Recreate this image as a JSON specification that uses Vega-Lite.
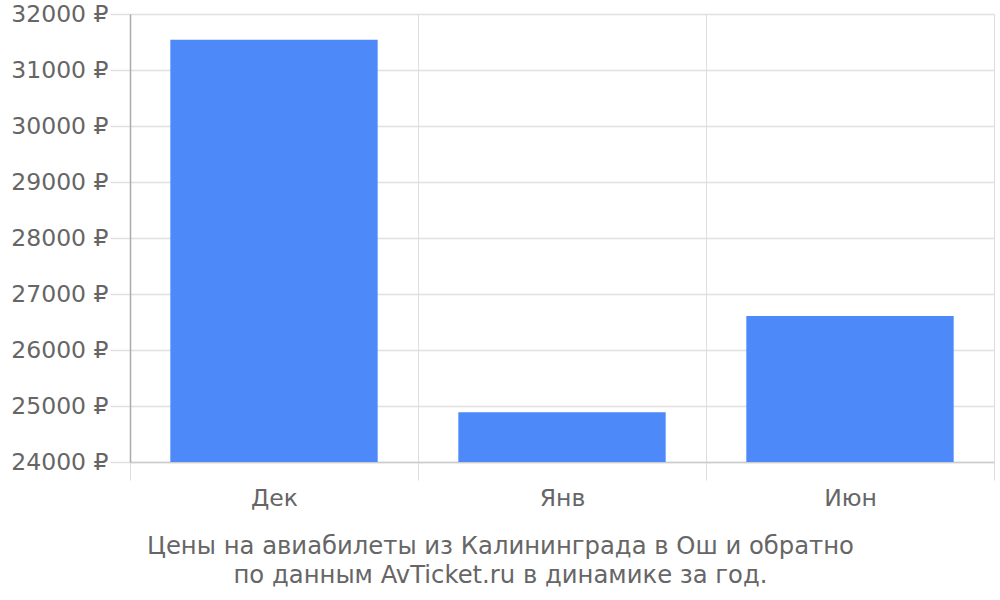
{
  "$schema": "https://vega.github.io/schema/vega-lite/v6.json",
  "autosize": "none",
  "width": 864,
  "height": 448,
  "padding": {"left": 130, "top": 14, "right": 6, "bottom": 138},
  "background": "white",
  "data": {
    "values": [
      {"month": "Дек", "price": 31540},
      {"month": "Янв", "price": 24890},
      {"month": "Июн", "price": 26605}
    ]
  },
  "mark": {"type": "bar", "color": "#4d89f9", "width": {"band": 0.72}},
  "encoding": {
    "x": {
      "field": "month",
      "type": "nominal",
      "sort": null,
      "scale": {"paddingInner": 0, "paddingOuter": 0},
      "axis": {
        "title": ["Цены на авиабилеты из Калининграда в Ош и обратно", "по данным AvTicket.ru в динамике за год."],
        "titleX": 370,
        "titleY": 72,
        "titleAlign": "center",
        "titleBaseline": "top",
        "titleAnchor": null,
        "titleLineHeight": 29,
        "titleFont": "DejaVu Sans",
        "titleFontSize": 24.3,
        "titleFontWeight": "normal",
        "titleColor": "#666666",
        "tickBand": "extent",
        "grid": true,
        "gridColor": "#dddddd",
        "tickColor": "#dddddd",
        "tickSize": 18,
        "domainColor": "#cccccc",
        "domainWidth": 1.5,
        "labelAngle": 0,
        "labelPadding": 6,
        "labelFont": "DejaVu Sans",
        "labelFontSize": 23.5,
        "labelColor": "#666666"
      }
    },
    "y": {
      "field": "price",
      "type": "quantitative",
      "scale": {"domain": [24000, 32000], "zero": false, "nice": false},
      "axis": {
        "title": null,
        "values": [24000, 25000, 26000, 27000, 28000, 29000, 30000, 31000, 32000],
        "labelExpr": "datum.value + ' ₽'",
        "gridColor": "#e0e0e0",
        "gridWidth": 1.5,
        "tickColor": "#e0e0e0",
        "tickWidth": 1.5,
        "tickSize": 20,
        "domainColor": "#aaaaaa",
        "domainWidth": 1.5,
        "labelPadding": 2,
        "labelFont": "DejaVu Sans",
        "labelFontSize": 23.5,
        "labelColor": "#666666"
      }
    },
    "y2": {"datum": 24000}
  },
  "config": {
    "view": {"stroke": null}
  }
}
